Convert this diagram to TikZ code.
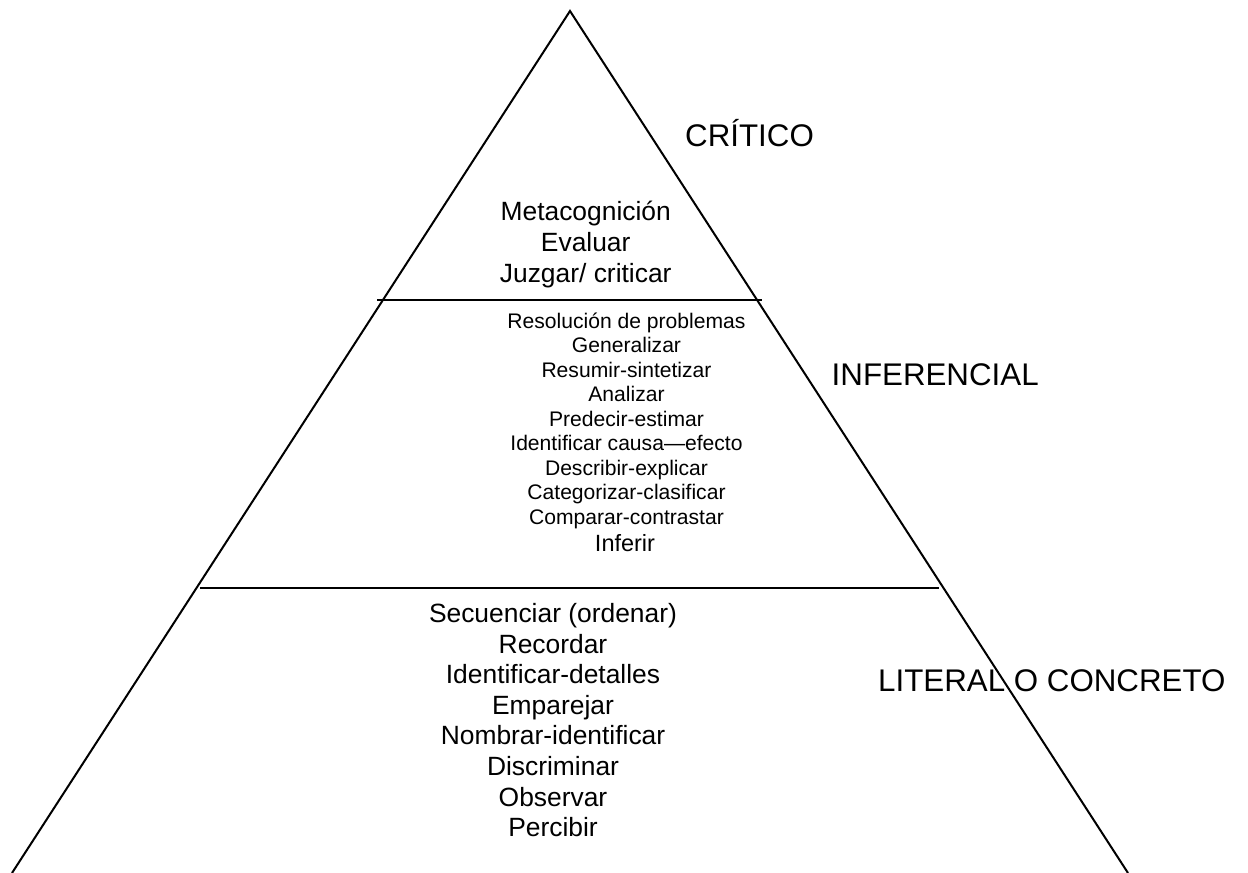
\documentclass[tikz,border=0pt]{standalone}
\usepackage{fontspec}
\setmainfont{Liberation Sans}
\begin{document}
\begin{tikzpicture}[x=1pt,y=-1pt,
  edge/.style={line width=2pt,black},
  label/.style={inner sep=0pt,anchor=base west,font=\fontsize{31.3}{36}\selectfont},
  bigitem/.style={inner sep=0pt,anchor=base,font=\fontsize{26.4}{30}\selectfont},
  smallitem/.style={inner sep=0pt,anchor=base,font=\fontsize{21.1}{24}\selectfont}]
\useasboundingbox (0,0) rectangle (1248,873);
% triangle
\coordinate (apex) at (570,11);
\coordinate (bl) at (12,873);
\coordinate (br) at (1128,873);
\draw[edge,line join=miter] (bl) -- (apex) -- (br);
% dividing lines
\coordinate (u1) at (377,299.5);
\coordinate (u2) at (762,299.5);
\coordinate (l1) at (200,587.5);
\coordinate (l2) at (939,587.5);
\draw[edge] (u1) -- (u2);
\draw[edge] (l1) -- (l2);
% level labels
\node[label] (crit) at (685,146.7) {CRÍTICO};
\node[label] (infer) at (831.5,385) {INFERENCIAL};
\node[label] (lit) at (878,691.7) {LITERAL O CONCRETO};
% top block
\node[bigitem] (t1) at (585.7,220.7) {Metacognición};
\node[bigitem] (t2) at (585.7,251.7) {Evaluar};
\node[bigitem] (t3) at (585.7,282.7) {Juzgar/ criticar};
% middle block
\foreach \t [count=\i from 0] in {Resolución de problemas,Generalizar,Resumir-sintetizar,Analizar,Predecir-estimar,Identificar causa—efecto,Describir-explicar,Categorizar-clasificar,Comparar-contrastar}
  \node[smallitem] (m\i) at (626.5,328.3+24.5*\i) {\t};
\node[bigitem,font=\fontsize{23.5}{27}\selectfont] (m9) at (625,551.7) {Inferir};
% lower block
\foreach \t [count=\i from 0] in {Secuenciar (ordenar),Recordar,Identificar-detalles,Emparejar,Nombrar-identificar,Discriminar,Observar,Percibir}
  \node[bigitem] (b\i) at (553,622.5+30.6*\i) {\t};
\end{tikzpicture}
\end{document}
